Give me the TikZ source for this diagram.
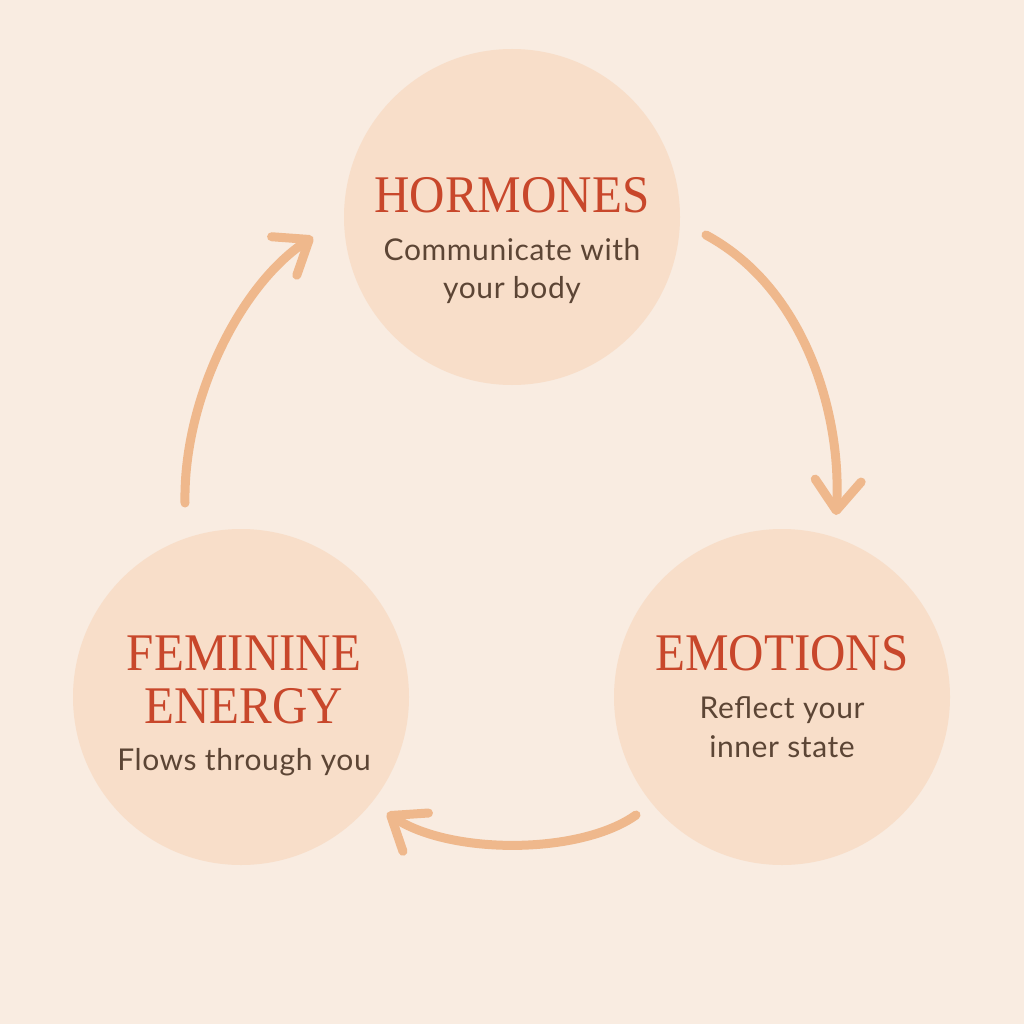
\documentclass[tikz,border=0pt]{standalone}
\usepackage{fontspec}
\setmainfont{Liberation Serif}
\newfontfamily\subfont[LetterSpace=2]{Lato}
\usetikzlibrary{arrows.meta}
\definecolor{bgc}{HTML}{F9ECE1}
\definecolor{circfill}{HTML}{F8DEC9}
\definecolor{titlered}{HTML}{C8472B}
\definecolor{subbrown}{HTML}{5C4535}
\definecolor{arrowc}{HTML}{EFB88C}
\newcommand{\tallcaps}[1]{\scalebox{1}[1.08]{#1}}
\begin{document}
\begin{tikzpicture}[x=1pt,y=-1pt,
  bubble/.style={circle,fill=circfill,minimum size=336pt,inner sep=0pt},
  ttl/.style={text=titlered,font=\fontsize{49}{53}\selectfont,anchor=base,inner sep=0pt},
  sub/.style={text=subbrown,font=\subfont\fontsize{30}{38}\selectfont,anchor=base,inner sep=0pt},
  flow/.style={draw=arrowc,line width=9pt,line cap=round,-{Straight Barb[length=30pt,width=46pt,round]}}]
\fill[bgc] (0,0) rectangle (1024,1024);
\useasboundingbox (0,0) rectangle (1024,1024);
% circles
\node[bubble] (hor) at (512,217) {};
\node[bubble] (fem) at (241,697) {};
\node[bubble] (emo) at (782,697) {};
% texts
\node[ttl] (horT) at (512,213) {\tallcaps{HORMONES}};
\node[sub] (horS1) at (512,260) {Communicate with};
\node[sub] (horS2) at (512,298) {your body};
\node[ttl] (femT1) at (244,670) {\tallcaps{FEMININE}};
\node[ttl] (femT2) at (244,723) {\tallcaps{ENERGY}};
\node[sub] (femS) at (244,770) {Flows through you};
\node[ttl] (emoT) at (782,670) {\tallcaps{EMOTIONS}};
\node[sub] (emoS1) at (782,718) {Reflect your};
\node[sub] (emoS2) at (782,757) {inner state};
% arrow endpoints
\coordinate (a1s) at (706,235);
\coordinate (a1e) at (836,515);
\coordinate (a2s) at (636,815);
\coordinate (a2e) at (387,813);
\coordinate (a3s) at (185,503);
\coordinate (a3e) at (313,237);
\draw[flow] (a1s) .. controls (808,290) and (842,420) .. (a1e);
\draw[flow] (a2s) .. controls (580,855) and (450,855) .. (a2e);
\draw[flow] (a3s) .. controls (183,400) and (240,285) .. (a3e);
\end{tikzpicture}
\end{document}
